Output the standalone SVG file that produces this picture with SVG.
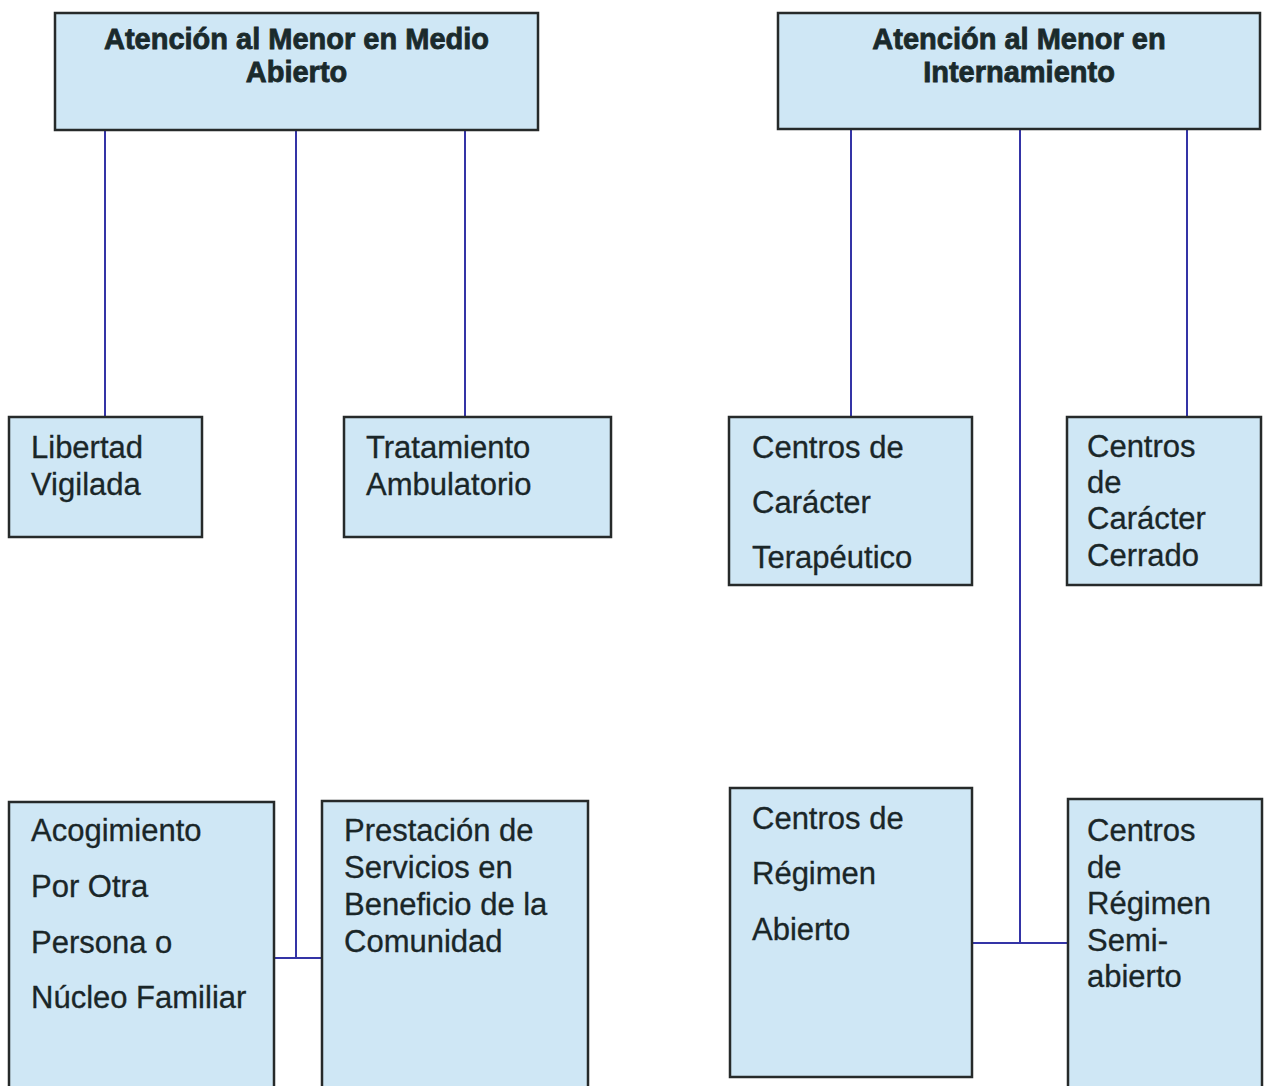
<svg xmlns="http://www.w3.org/2000/svg" width="1269" height="1086" viewBox="0 0 1269 1086">
<style>
.box{fill:#cfe7f5;stroke:#262a2a;stroke-width:2.5}
.t{font-family:"Liberation Sans",Arial,sans-serif;font-size:31px;fill:#1a2628;stroke:#1a2628;stroke-width:0.3}
.h{font-family:"Liberation Sans",Arial,sans-serif;font-size:29px;font-weight:bold;fill:#1a2a2c;stroke:#1a2a2c;stroke-width:0.8;text-anchor:middle}
.c{stroke:#3434a6;stroke-width:2;fill:none}
</style>
<rect width="1269" height="1086" fill="#ffffff"/>
<g id="connectors">
<line class="c" x1="105" y1="130" x2="105" y2="417"/>
<line class="c" x1="296" y1="130" x2="296" y2="958"/>
<line class="c" x1="465" y1="130" x2="465" y2="417"/>
<line class="c" x1="274" y1="958" x2="322" y2="958"/>
<line class="c" x1="851" y1="129" x2="851" y2="417"/>
<line class="c" x1="1020" y1="129" x2="1020" y2="943"/>
<line class="c" x1="1187" y1="129" x2="1187" y2="417"/>
<line class="c" x1="972" y1="943" x2="1068" y2="943"/>
</g>
<g id="medio-abierto">
<rect class="box" x="55" y="13" width="483" height="117"/>
<text class="h" x="296.5" y="49">Atención al Menor en Medio</text>
<text class="h" x="296.5" y="82">Abierto</text>
</g>
<g id="internamiento">
<rect class="box" x="778" y="13" width="482" height="116"/>
<text class="h" x="1019" y="49">Atención al Menor en</text>
<text class="h" x="1019" y="82">Internamiento</text>
</g>
<g id="libertad-vigilada">
<rect class="box" x="9" y="417" width="193" height="120"/>
<text class="t" x="31" y="458">Libertad</text>
<text class="t" x="31" y="495">Vigilada</text>
</g>
<g id="tratamiento-ambulatorio">
<rect class="box" x="344" y="417" width="267" height="120"/>
<text class="t" x="366" y="458">Tratamiento</text>
<text class="t" x="366" y="495">Ambulatorio</text>
</g>
<g id="acogimiento">
<rect class="box" x="9" y="802" width="265" height="300"/>
<text class="t" x="31" y="841">Acogimiento</text>
<text class="t" x="31" y="897">Por Otra</text>
<text class="t" x="31" y="953">Persona o</text>
<text class="t" x="31" y="1008">Núcleo Familiar</text>
</g>
<g id="prestacion">
<rect class="box" x="322" y="801" width="266" height="301"/>
<text class="t" x="344" y="841">Prestación de</text>
<text class="t" x="344" y="878">Servicios en</text>
<text class="t" x="344" y="915">Beneficio de la</text>
<text class="t" x="344" y="952">Comunidad</text>
</g>
<g id="caracter-terapeutico">
<rect class="box" x="729" y="417" width="243" height="168"/>
<text class="t" x="752" y="458">Centros de</text>
<text class="t" x="752" y="513">Carácter</text>
<text class="t" x="752" y="568">Terapéutico</text>
</g>
<g id="caracter-cerrado">
<rect class="box" x="1067" y="417" width="194" height="168"/>
<text class="t" x="1087" y="457">Centros</text>
<text class="t" x="1087" y="493">de</text>
<text class="t" x="1087" y="529">Carácter</text>
<text class="t" x="1087" y="566">Cerrado</text>
</g>
<g id="regimen-abierto">
<rect class="box" x="730" y="788" width="242" height="289"/>
<text class="t" x="752" y="829">Centros de</text>
<text class="t" x="752" y="884">Régimen</text>
<text class="t" x="752" y="940">Abierto</text>
</g>
<g id="regimen-semiabierto">
<rect class="box" x="1068" y="799" width="194" height="303"/>
<text class="t" x="1087" y="841">Centros</text>
<text class="t" x="1087" y="878">de</text>
<text class="t" x="1087" y="914">Régimen</text>
<text class="t" x="1087" y="951">Semi-</text>
<text class="t" x="1087" y="987">abierto</text>
</g>
</svg>
